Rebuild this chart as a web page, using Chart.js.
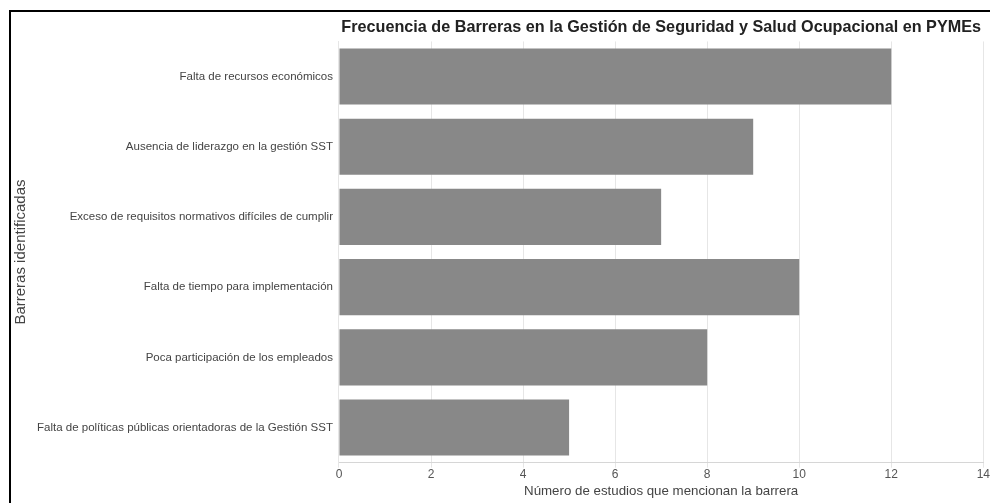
<!DOCTYPE html>
<html>
<head>
<meta charset="utf-8">
<script src="https://cdn.jsdelivr.net/npm/chart.js@4"></script>
<style>
  html, body { margin: 0; padding: 0; background: #fff; overflow: hidden; }
  #wrap { position: absolute; left: 0; top: 0; width: 990px; height: 503px; }
  #frame { position: absolute; left: 9px; top: 10px; width: 1200px; height: 800px;
           border-top: 2px solid #000; border-left: 2px solid #000; pointer-events: none; }
</style>
</head>
<body>
<div id="wrap"><canvas id="c" width="990" height="503"></canvas></div>
<div id="frame"></div>
<script>
const categories = [
  "Falta de recursos económicos",
  "Ausencia de liderazgo en la gestión SST",
  "Exceso de requisitos normativos difíciles de cumplir",
  "Falta de tiempo para implementación",
  "Poca participación de los empleados",
  "Falta de políticas públicas orientadoras de la Gestión SST"
];
const studyCounts = [12, 9, 7, 10, 8, 5];
const xTicks = [0, 2, 4, 6, 8, 10, 12, 14];
const chartTitle = "Frecuencia de Barreras en la Gestión de Seguridad y Salud Ocupacional en PYMEs";
const xTitle = "Número de estudios que mencionan la barrera";
const yTitle = "Barreras identificadas";

const FONT = "'Liberation Sans', Arial, sans-serif";

new Chart(document.getElementById('c'), {
  type: 'bar',
  data: {
    labels: categories,
    datasets: [{
      data: studyCounts,
      backgroundColor: '#888888',
      borderWidth: 0,
      barPercentage: 1.0,
      categoryPercentage: 0.8
    }]
  },
  options: {
    indexAxis: 'y',
    responsive: false,
    animation: false,
    devicePixelRatio: 1,
    layout: { padding: { top: 18, left: 12, right: 0, bottom: 4 } },
    plugins: {
      legend: { display: false },
      tooltip: { enabled: false },
      title: {
        display: true,
        text: chartTitle,
        fullSize: false,
        color: '#222',
        font: { family: FONT, size: 16.2, weight: 'bold' },
        padding: { top: 0, bottom: 4 }
      }
    },
    scales: {
      x: {
        min: 0, max: 14,
        afterBuildTicks: (axis) => { axis.ticks = xTicks.map(v => ({ value: v })); },
        grid: { color: '#e6e6e6', drawTicks: true, tickLength: 5, tickColor: '#e6e6e6' },
        border: { color: '#d6d6d6' },
        ticks: { color: '#555', font: { family: FONT, size: 12 }, padding: 0 },
        title: { display: true, text: xTitle, color: '#444', font: { family: FONT, size: 13.3 }, padding: { top: 1, bottom: 0 } }
      },
      y: {
        grid: { display: false, drawTicks: false },
        border: { color: '#e6e6e6' },
        ticks: { color: '#444', font: { family: FONT, size: 11.5 }, padding: 6 },
        title: { display: true, text: yTitle, color: '#444', font: { family: FONT, size: 15 }, padding: { top: 0, bottom: 1 } }
      }
    }
  }
});
</script>
</body>
</html>
